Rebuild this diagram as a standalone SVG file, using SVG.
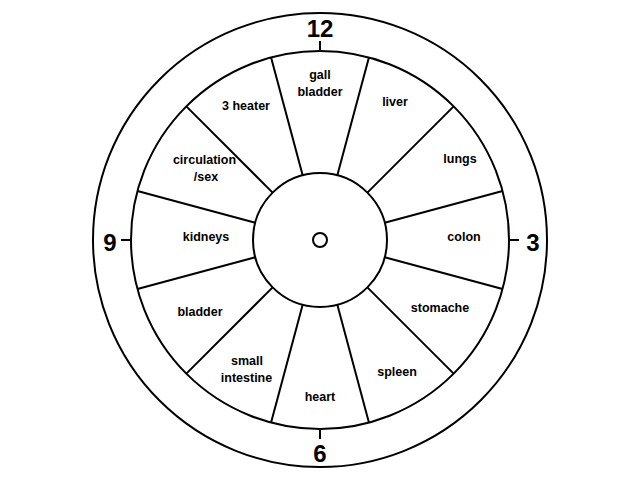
<svg xmlns="http://www.w3.org/2000/svg" width="640" height="480" viewBox="0 0 640 480">
<style>
.ln{fill:none;stroke:#000;stroke-width:2}
.lb{font-family:"Liberation Sans",Arial,sans-serif;font-weight:bold;font-size:12.5px;text-anchor:middle;fill:#000}
.num{font-family:"Liberation Sans",Arial,sans-serif;font-weight:bold;font-size:24px;text-anchor:middle;fill:#000}
</style>
<rect width="640" height="480" fill="#fff"/>
<g id="dial">
<circle class="ln" cx="320" cy="240" r="227"/>
<circle class="ln" cx="320" cy="240" r="189"/>
<circle class="ln" cx="320" cy="240" r="67"/>
<circle class="ln" cx="320" cy="240" r="7"/>
</g>
<g id="connectors">
<g transform="translate(320,240)">
<line class="ln" x1="0" y1="-67" x2="0" y2="-189" transform="rotate(15)"/>
<line class="ln" x1="0" y1="-67" x2="0" y2="-189" transform="rotate(45)"/>
<line class="ln" x1="0" y1="-67" x2="0" y2="-189" transform="rotate(75)"/>
<line class="ln" x1="0" y1="-67" x2="0" y2="-189" transform="rotate(105)"/>
<line class="ln" x1="0" y1="-67" x2="0" y2="-189" transform="rotate(135)"/>
<line class="ln" x1="0" y1="-67" x2="0" y2="-189" transform="rotate(165)"/>
<line class="ln" x1="0" y1="-67" x2="0" y2="-189" transform="rotate(195)"/>
<line class="ln" x1="0" y1="-67" x2="0" y2="-189" transform="rotate(225)"/>
<line class="ln" x1="0" y1="-67" x2="0" y2="-189" transform="rotate(255)"/>
<line class="ln" x1="0" y1="-67" x2="0" y2="-189" transform="rotate(285)"/>
<line class="ln" x1="0" y1="-67" x2="0" y2="-189" transform="rotate(315)"/>
<line class="ln" x1="0" y1="-67" x2="0" y2="-189" transform="rotate(345)"/>
</g>
<line class="ln" x1="320" y1="41" x2="320" y2="51"/>
<line class="ln" x1="509" y1="240" x2="519" y2="240"/>
<line class="ln" x1="320" y1="429" x2="320" y2="439"/>
<line class="ln" x1="121" y1="240" x2="131" y2="240"/>
</g>
<g id="hours">
<text class="num" x="320" y="37">12</text>
<text class="num" x="533" y="250.5">3</text>
<text class="num" x="320" y="461.5">6</text>
<text class="num" x="110" y="250.5">9</text>
</g>
<g id="n-gallbladder"><text class="lb" x="320" y="79">gall</text><text class="lb" x="320" y="95.5">bladder</text></g>
<g id="n-liver"><text class="lb" x="395" y="106">liver</text></g>
<g id="n-lungs"><text class="lb" x="460" y="163">lungs</text></g>
<g id="n-colon"><text class="lb" x="464" y="240.5">colon</text></g>
<g id="n-stomache"><text class="lb" x="440" y="311.5">stomache</text></g>
<g id="n-spleen"><text class="lb" x="397" y="375.5">spleen</text></g>
<g id="n-heart"><text class="lb" x="320" y="401">heart</text></g>
<g id="n-smallintestine"><text class="lb" x="247" y="365">small</text><text class="lb" x="246.5" y="381.5">intestine</text></g>
<g id="n-bladder"><text class="lb" x="200" y="316">bladder</text></g>
<g id="n-kidneys"><text class="lb" x="206" y="240.5">kidneys</text></g>
<g id="n-circulation"><text class="lb" x="204.5" y="164">circulation</text><text class="lb" x="206" y="180.5">/sex</text></g>
<g id="n-3heater"><text class="lb" x="246" y="110">3 heater</text></g>
</svg>
